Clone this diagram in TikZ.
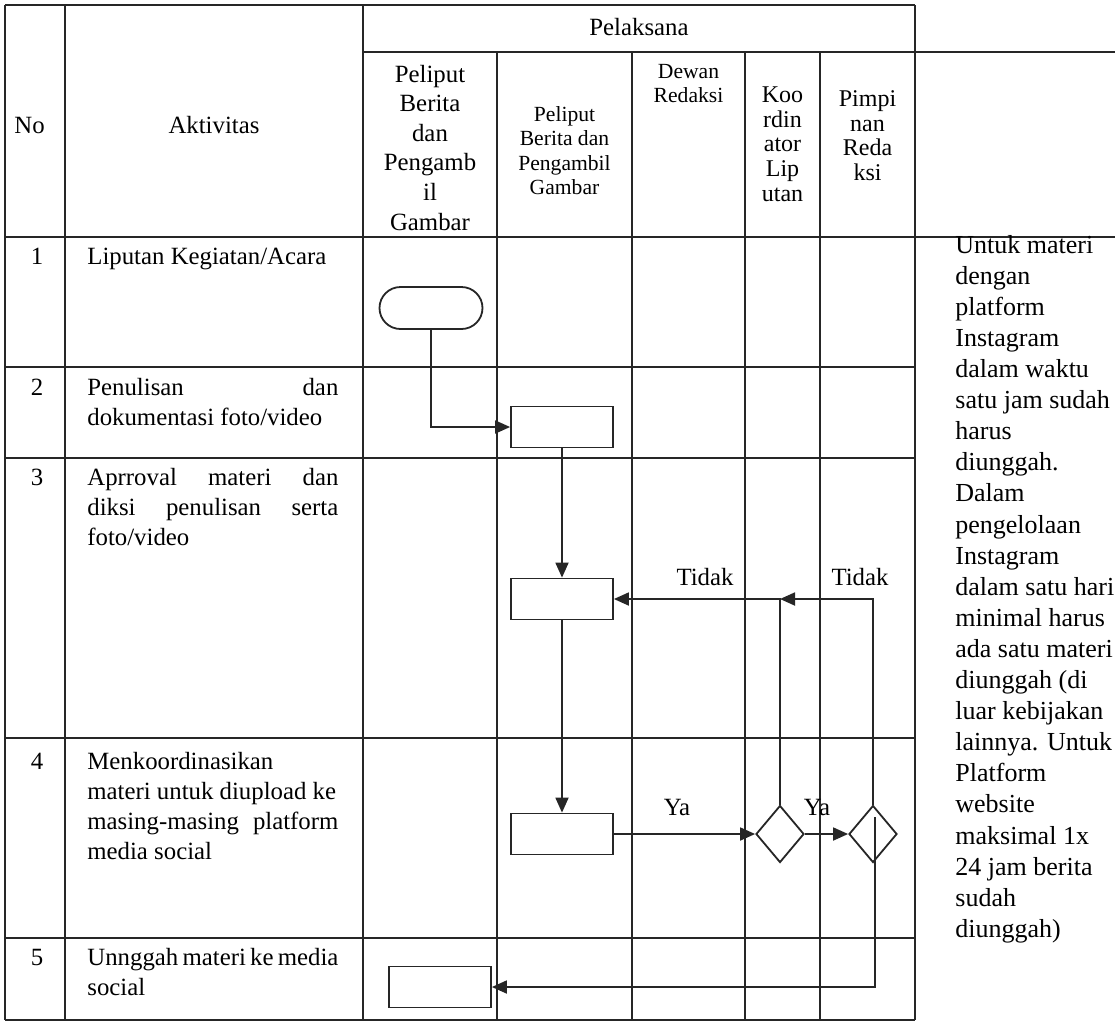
\documentclass[tikz,border=0pt]{standalone}
\usepackage{fontspec}
\setmainfont{Liberation Serif}
\usetikzlibrary{arrows.meta, shapes.geometric}

\newcommand{\teksfont}{\fontsize{12.4}{15}\selectfont}
\newcommand{\catatanfont}{\fontsize{13}{15.55}\selectfont}
\newcommand{\kepalafont}{\fontsize{12.4}{14.8}\selectfont}
\newcommand{\sedangfont}{\fontsize{12}{12.3}\selectfont}
\newcommand{\kecilfont}{\fontsize{10.8}{12.15}\selectfont}
\newlength{\lebarkolom}
\setlength{\lebarkolom}{125.5pt}
\newcommand{\rata}[1]{\makebox[\lebarkolom][s]{#1}}

\begin{document}
\begin{tikzpicture}[
    x=0.5pt, y=-0.5pt,
    every node/.style={inner sep=0pt, text=black},
    gridline/.style={draw=black!85, line width=0.6pt},
    process/.style={draw=black!85, line width=0.9pt,
                    minimum width=51pt, minimum height=20.5pt},
    terminal/.style={draw=black!85, line width=0.9pt, rounded corners=10.5pt,
                     minimum width=51.5pt, minimum height=21pt},
    decision/.style={diamond, draw=black!85, line width=0.9pt,
                     minimum width=24pt, minimum height=28.5pt},
    flow/.style={draw=black!85, line width=0.9pt,
                 -{Triangle[length=7.5pt, width=6.5pt]}},
    cell/.style={anchor=north west, align=left, font=\teksfont}
]
\useasboundingbox (0,0) rectangle (1115,1025);
\fill[white] (0,0) rectangle (1115,1025);

% table
\draw[gridline] (5,5) -- (915,5);
\draw[gridline] (363,52) -- (1115,52);
\draw[gridline] (5,237) -- (1115,237);
\foreach \y in {367,458,738,938,1020}
    \draw[gridline] (5,\y) -- (915,\y);
\foreach \x in {5,65,363,915}
    \draw[gridline] (\x,5) -- (\x,1020);
\foreach \x in {497,632,745,820}
    \draw[gridline] (\x,52) -- (\x,1020);

% header
\node[anchor=base west, font=\teksfont] (hno) at (14,133) {No};
\node[anchor=base, font=\teksfont] (hakt) at (214,133) {Aktivitas};
\node[anchor=base, font=\teksfont] (hpel) at (639,35) {Pelaksana};
\node[anchor=north, align=center, font=\kepalafont] (hpeliput) at (430,61)
    {\strut Peliput\\Berita\\dan\\Pengamb\\il\\Gambar};
\node[anchor=north, align=center, font=\kecilfont] (hpengambil) at (564.5,104)
    {\strut Peliput\\Berita dan\\Pengambil\\Gambar};
\node[anchor=north, align=center, font=\kecilfont] (hdewan) at (688.5,61)
    {\strut Dewan\\Redaksi};
\node[anchor=north, align=center, font=\sedangfont] (hkoord) at (782.5,85)
    {\strut Koo\\rdin\\ator\\Lip\\utan};
\node[anchor=north, align=center, font=\sedangfont] (hpimp) at (867.5,89)
    {\strut Pimpi\\nan\\Reda\\ksi};

% rows
\foreach \n/\y in {1/264, 2/395, 3/485, 4/769, 5/965}
    \node[anchor=base, font=\teksfont] (no\n) at (37,\y) {\n};
\node[cell] (akt1) at (87,243) {\strut Liputan Kegiatan/Acara};
\node[cell] (akt2) at (87,374) {\strut\rata{Penulisan dan}\\dokumentasi foto/video};
\node[cell] (akt3) at (87,464)
    {\strut\rata{Aprroval materi dan}\\\rata{diksi penulisan serta}\\foto/video};
\node[cell] (akt4) at (87,748)
    {\strut Menkoordinasikan\\materi untuk diupload ke\\\rata{masing-masing platform}\\media social};
\node[cell] (akt5) at (87,944) {\strut\rata{Unnggah materi ke media}\\social};

\node[anchor=north west, align=left, font=\catatanfont] (catatan) at (955,231)
    {\strut Untuk materi\\dengan\\platform\\Instagram\\dalam waktu\\satu jam sudah\\harus\\diunggah.\\Dalam\\pengelolaan\\Instagram\\dalam satu hari\\minimal harus\\ada satu materi\\diunggah (di\\luar kebijakan\\lainnya. Untuk\\Platform\\website\\maksimal 1x\\24 jam berita\\sudah\\diunggah)};

% flow
\node[terminal] (start) at (431,308) {};
\node[process] (tulis) at (562,427) {};
\node[process] (setuju) at (562,599) {};
\node[process] (koord) at (562,834) {};
\node[decision] (cekkoord) at (780,834) {};
\node[decision] (cekpimp) at (873,834) {};
\node[process] (unggah) at (440,987) {};
\coordinate (gabung) at (cekkoord |- setuju);
\coordinate (dalam) at (875,817);

\draw[flow] (start) |- (tulis);
\draw[flow] (tulis) -- (setuju);
\draw[flow] (setuju) -- (koord);
\draw[flow] (koord) -- (cekkoord);
\draw[flow] (cekkoord) -- (cekpimp);
\draw[flow] (cekkoord) |- (setuju);
\draw[flow] (cekpimp) |- (gabung);
\draw[flow] (dalam) |- (unggah);

\node[anchor=base, font=\teksfont] (tidak1) at (705,585) {Tidak};
\node[anchor=base, font=\teksfont] (tidak2) at (860,585) {Tidak};
\node[anchor=base, font=\teksfont] (ya1) at (677,815) {Ya};
\node[anchor=base, font=\teksfont] (ya2) at (817,815) {Ya};
\end{tikzpicture}
\end{document}
